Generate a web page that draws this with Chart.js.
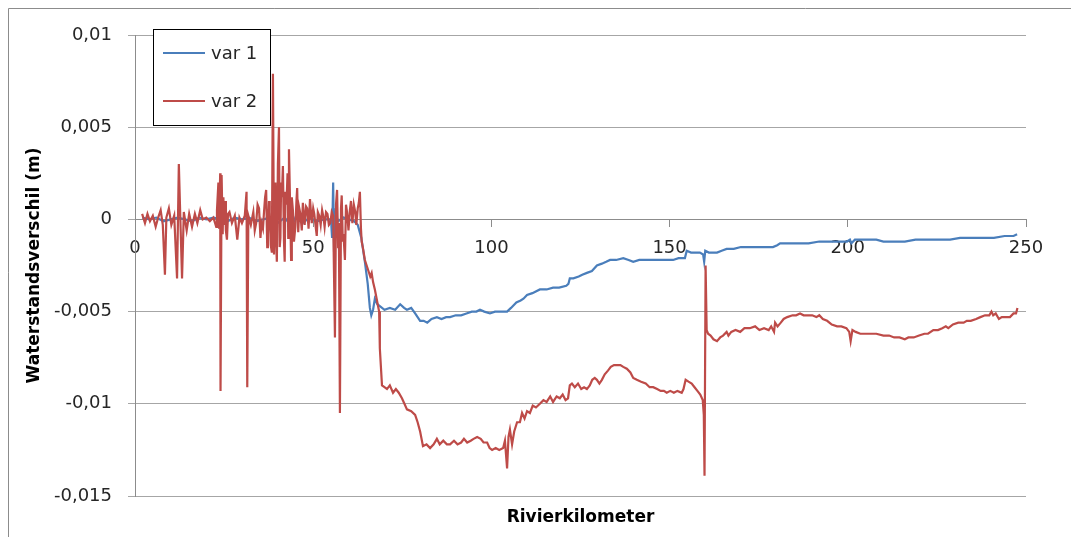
<!DOCTYPE html>
<html>
<head>
<meta charset="utf-8">
<script src="https://cdn.jsdelivr.net/npm/chart.js@4"></script>
<style>
  html, body { margin: 0; padding: 0; background: #fff; }
  canvas { display: block; }
</style>
</head>
<body>
<canvas id="c" width="1071" height="537"></canvas>
<script>
// ---------- data (km, m) ----------
const seriesNames = ['var 1', 'var 2'];
const xTickValues = [0, 50, 100, 150, 200, 250];
const yTickValues = [-0.015, -0.01, -0.005, 0, 0.005, 0.01];

const var1Km = [2.0,4.0,6.0,8.0,10.0,12.0,14.0,16.0,18.0,20.0,22.0,24.0,26.0,28.0,30.0,32.0,34.0,36.0,38.0,40.0,42.0,44.0,45.0,47.0,49.0,51.0,53.0,55.0,55.3,55.6,55.9,56.3,57.0,58.5,60.0,61.5,62.5,63.5,64.5,65.3,65.9,66.3,66.8,67.3,68.0,68.7,70.0,71.5,73.0,74.4,75.5,76.3,77.5,78.6,79.3,80.0,81.0,82.0,83.2,84.7,86.0,87.3,88.4,90.0,91.5,93.0,94.5,95.8,96.8,98.0,99.6,101.0,102.4,103.5,104.4,105.5,107.0,108.2,109.0,110.0,111.5,113.6,115.5,117.3,119.0,121.0,121.6,122.0,123.0,124.5,125.5,126.8,128.2,129.6,131.0,132.2,133.3,135.0,137.0,138.5,139.8,141.5,143.0,144.5,146.5,148.0,149.2,151.0,152.5,154.3,154.8,156.0,157.5,158.5,159.4,159.7,160.0,161.0,162.2,163.3,164.6,166.0,168.0,170.0,172.5,174.5,177.3,179.0,180.2,181.0,183.0,186.6,189.0,192.0,194.5,196.0,198.0,199.8,200.6,201.0,202.0,205.0,208.0,210.0,213.0,216.0,219.0,222.0,225.0,228.7,231.5,234.0,236.0,238.0,241.0,244.0,246.5,247.5];
const var1Val = [0.0001,0.0000,0.0001,-0.0001,0.0000,0.0001,0.0000,-0.0001,0.0001,0.0000,0.0001,0.0000,-0.0001,0.0001,0.0000,0.0001,-0.0001,0.0000,0.0001,-0.0002,0.0001,-0.0004,0.0001,-0.0002,0.0001,-0.0001,0.0000,0.0000,-0.0010,0.0020,-0.0024,0.0003,-0.0001,0.0001,0.0000,-0.0001,-0.0003,-0.0010,-0.0023,-0.0035,-0.0048,-0.0052,-0.0049,-0.0043,-0.0046,-0.0047,-0.0049,-0.0048,-0.0049,-0.0046,-0.0048,-0.0049,-0.0048,-0.0051,-0.0053,-0.0055,-0.0055,-0.0056,-0.0054,-0.0053,-0.0054,-0.0053,-0.0053,-0.0052,-0.0052,-0.0051,-0.0050,-0.0050,-0.0049,-0.0050,-0.0051,-0.0050,-0.0050,-0.0050,-0.0050,-0.0048,-0.0045,-0.0044,-0.0043,-0.0041,-0.0040,-0.0038,-0.0038,-0.0037,-0.0037,-0.0036,-0.0035,-0.0032,-0.0032,-0.0031,-0.0030,-0.0029,-0.0028,-0.0025,-0.0024,-0.0023,-0.0022,-0.0022,-0.0021,-0.0022,-0.0023,-0.0022,-0.0022,-0.0022,-0.0022,-0.0022,-0.0022,-0.0022,-0.0021,-0.0021,-0.0017,-0.0018,-0.0018,-0.0018,-0.0019,-0.0023,-0.0017,-0.0018,-0.0018,-0.0018,-0.0017,-0.0016,-0.0016,-0.0015,-0.0015,-0.0015,-0.0015,-0.0015,-0.0014,-0.0013,-0.0013,-0.0013,-0.0013,-0.0012,-0.0012,-0.0012,-0.0012,-0.0012,-0.0011,-0.0013,-0.0011,-0.0011,-0.0011,-0.0012,-0.0012,-0.0012,-0.0011,-0.0011,-0.0011,-0.0011,-0.0010,-0.0010,-0.0010,-0.0010,-0.0010,-0.0009,-0.0009,-0.0008];

// var 2, written in rows of 10 values
const var2Km = [
  2.0, 2.8, 3.5, 4.2, 5.0, 5.8, 6.5, 7.2, 7.8, 8.4,
  8.8, 9.5, 10.2, 11.0, 11.8, 12.3, 12.8, 13.2, 13.7, 14.5,
  15.2, 16.0, 16.8, 17.5, 18.3, 19.0, 20.0, 21.0, 22.0, 22.8,
  23.0, 23.4, 23.6, 23.9, 24.0, 24.3, 24.6, 24.8, 25.0, 25.3,
  25.5, 25.8, 26.1, 26.5, 27.2, 28.0, 28.7, 29.3, 30.0, 30.8,
  31.3, 31.5, 31.8, 32.5, 33.2, 33.6, 34.0, 34.4, 34.8, 35.2,
  35.5, 35.9, 36.2, 36.5, 36.8, 37.1, 37.3, 37.6, 37.8, 38.1,
  38.4, 38.7, 39.0, 39.2, 39.4, 39.6, 39.8, 40.1, 40.4, 40.6,
  40.8, 41.0, 41.2, 41.5, 41.8, 42.0, 42.2, 42.5, 42.8, 43.0,
  43.2, 43.5, 43.8, 44.0, 44.3, 44.6, 45.0, 45.3, 45.5, 45.8,
  46.1, 46.4, 46.8, 47.1, 47.4, 47.6, 48.0, 48.3, 48.7, 49.1,
  49.4, 49.6, 50.0, 50.3, 50.7, 51.0, 51.3, 51.7, 52.1, 52.5,
  52.9, 53.2, 53.6, 54.0, 54.4, 54.8, 55.2, 55.6, 56.1, 56.4,
  56.7, 57.0, 57.2, 57.5, 57.8, 58.0, 58.3, 58.5, 58.9, 59.2,
  59.5, 59.9, 60.3, 60.6, 61.0, 61.4, 61.8, 62.1, 62.5, 62.8,
  63.1, 63.4, 63.6, 64.0, 64.5, 65.0, 65.5, 66.0, 66.4, 66.8,
  67.3, 67.8, 68.5, 68.7, 69.3, 70.0, 70.7, 71.5, 72.4, 73.2,
  74.0, 74.9, 75.6, 76.3, 77.5, 78.6, 79.3, 80.0, 80.8, 81.8,
  82.8, 83.8, 84.7, 85.5, 86.5, 87.5, 88.4, 89.5, 90.5, 91.5,
  92.3, 93.2, 94.2, 95.0, 96.0, 97.0, 97.8, 98.8, 99.5, 100.2,
  101.2, 102.2, 103.3, 103.8, 104.4, 104.8, 105.2, 105.8, 106.4, 107.2,
  108.0, 108.6, 109.3, 110.0, 110.8, 111.6, 112.5, 113.6, 114.6, 115.5,
  116.5, 117.3, 118.3, 119.2, 120.0, 120.8, 121.5, 122.0, 122.6, 123.4,
  124.3, 125.2, 126.0, 126.8, 127.6, 128.3, 129.0, 129.6, 130.3, 131.0,
  131.8, 132.7, 133.5, 134.4, 135.2, 136.2, 137.0, 138.0, 139.0, 139.8,
  140.8, 142.0, 143.3, 144.4, 145.4, 146.5, 147.5, 148.4, 149.2, 150.2,
  151.2, 152.2, 153.4, 153.9, 154.5, 155.3, 156.2, 157.0, 157.8, 158.6,
  159.3, 159.6, 159.8, 160.1, 160.4, 160.8, 161.5, 162.3, 163.3, 164.2,
  165.0, 166.0, 166.5, 167.3, 168.5, 169.8, 171.0, 172.5, 174.0, 175.2,
  176.5, 177.8, 178.5, 179.3, 179.6, 180.3, 181.2, 182.0, 183.0, 184.5,
  185.5, 186.6, 187.6, 188.8, 190.0, 191.2, 192.0, 193.0, 194.2, 195.5,
  197.0, 198.2, 199.6, 200.4, 200.8, 201.3, 202.2, 203.5, 205.0, 206.5,
  208.0, 210.0, 211.6, 213.0, 214.5, 216.0, 217.0, 218.5, 220.0, 221.5,
  222.5, 224.0, 225.3, 226.5, 227.5, 228.2, 229.5, 231.0, 232.5, 233.4,
  234.5, 236.0, 237.2, 238.5, 239.7, 240.3, 240.8, 241.5, 242.4, 243.2,
  244.5, 245.5, 246.5, 247.2, 247.6
];
const var2Val = [
  0.0003, -0.0002, 0.0003, -0.0001, 0.0002, -0.0004, 0.0001, 0.0005, -0.0003, -0.0030,
  0.0001, 0.0006, -0.0003, 0.0002, -0.0032, 0.0030, -0.0005, -0.0032, 0.0004, -0.0006,
  0.0003, -0.0004, 0.0003, -0.0002, 0.0005, 0.0000, 0.0001, -0.0001, 0.0001, -0.0004,
  0.0005, 0.0020, -0.0005, 0.0025, -0.0093, 0.0024, -0.0008, 0.0012, -0.0003, 0.0010,
  -0.0006, -0.0011, 0.0003, 0.0004, -0.0002, 0.0002, -0.0011, 0.0001, -0.0002, 0.0002,
  0.0015, -0.0091, 0.0002, -0.0003, 0.0004, -0.0006, -0.0002, 0.0008, 0.0006, -0.0010,
  -0.0002, -0.0005, 0.0004, 0.0012, 0.0016, -0.0015, -0.0008, 0.0010, 0.0004, -0.0014,
  -0.0018, 0.0079, -0.0019, 0.0012, 0.0020, -0.0012, -0.0023, 0.0030, 0.0050, -0.0015,
  -0.0010, 0.0020, 0.0012, 0.0029, -0.0012, -0.0023, 0.0015, 0.0008, 0.0025, -0.0010,
  0.0038, 0.0010, -0.0022, 0.0012, 0.0005, -0.0012, -0.0004, 0.0010, 0.0017, -0.0007,
  0.0006, 0.0003, -0.0006, 0.0009, 0.0002, -0.0003, 0.0007, 0.0006, -0.0005, 0.0011,
  0.0003, -0.0002, 0.0006, 0.0003, -0.0004, -0.0009, 0.0004, 0.0002, -0.0003, 0.0005,
  0.0001, -0.0004, 0.0004, 0.0003, -0.0003, -0.0002, 0.0004, 0.0002, -0.0064, 0.0008,
  0.0016, -0.0015, -0.0002, -0.0105, 0.0006, 0.0013, -0.0012, -0.0008, -0.0022, 0.0008,
  0.0004, -0.0006, 0.0005, 0.0010, -0.0002, 0.0008, 0.0004, -0.0003, 0.0006, 0.0009,
  0.0015, -0.0005, -0.0012, -0.0016, -0.0022, -0.0025, -0.0028, -0.0031, -0.0029, -0.0034,
  -0.0038, -0.0043, -0.0050, -0.0070, -0.0090, -0.0091, -0.0092, -0.0090, -0.0094, -0.0092,
  -0.0094, -0.0097, -0.0100, -0.0103, -0.0104, -0.0106, -0.0110, -0.0115, -0.0123, -0.0122,
  -0.0124, -0.0122, -0.0119, -0.0122, -0.0120, -0.0122, -0.0122, -0.0120, -0.0122, -0.0121,
  -0.0119, -0.0121, -0.0120, -0.0119, -0.0118, -0.0119, -0.0121, -0.0121, -0.0124, -0.0125,
  -0.0124, -0.0125, -0.0124, -0.0120, -0.0135, -0.0118, -0.0114, -0.0122, -0.0115, -0.0110,
  -0.0110, -0.0105, -0.0108, -0.0104, -0.0105, -0.0101, -0.0102, -0.0100, -0.0098, -0.0099,
  -0.0096, -0.0099, -0.0096, -0.0097, -0.0095, -0.0098, -0.0097, -0.0090, -0.0089, -0.0091,
  -0.0089, -0.0092, -0.0091, -0.0092, -0.0090, -0.0087, -0.0086, -0.0087, -0.0089, -0.0087,
  -0.0084, -0.0082, -0.0080, -0.0079, -0.0079, -0.0079, -0.0080, -0.0081, -0.0083, -0.0086,
  -0.0087, -0.0088, -0.0089, -0.0091, -0.0091, -0.0092, -0.0093, -0.0093, -0.0094, -0.0093,
  -0.0094, -0.0093, -0.0094, -0.0092, -0.0087, -0.0088, -0.0089, -0.0091, -0.0093, -0.0095,
  -0.0098, -0.0106, -0.0139, -0.0025, -0.0060, -0.0062, -0.0063, -0.0065, -0.0066, -0.0064,
  -0.0063, -0.0061, -0.0063, -0.0061, -0.0060, -0.0061, -0.0059, -0.0059, -0.0058, -0.0060,
  -0.0059, -0.0060, -0.0058, -0.0061, -0.0056, -0.0058, -0.0056, -0.0054, -0.0053, -0.0052,
  -0.0052, -0.0051, -0.0052, -0.0052, -0.0052, -0.0053, -0.0052, -0.0054, -0.0055, -0.0057,
  -0.0058, -0.0058, -0.0059, -0.0061, -0.0066, -0.0060, -0.0061, -0.0062, -0.0062, -0.0062,
  -0.0062, -0.0063, -0.0063, -0.0064, -0.0064, -0.0065, -0.0064, -0.0064, -0.0063, -0.0062,
  -0.0062, -0.0060, -0.0060, -0.0059, -0.0058, -0.0059, -0.0057, -0.0056, -0.0056, -0.0055,
  -0.0055, -0.0054, -0.0053, -0.0052, -0.0052, -0.0050, -0.0052, -0.0051, -0.0054, -0.0053,
  -0.0053, -0.0053, -0.0051, -0.0051, -0.0048
];

if (var1Km.length !== var1Val.length) throw new Error('var1 length mismatch ' + var1Km.length + ' vs ' + var1Val.length);
if (var2Km.length !== var2Val.length) throw new Error('var2 length mismatch ' + var2Km.length + ' vs ' + var2Val.length);

const colors = ['#4A7EBB', '#BE4B48'];

// ---------- chart ----------
const toPoints = (xs, ys) => xs.map((x, i) => ({ x: x, y: ys[i] }));
const fmt = v => Number(v.toFixed(4)).toString().replace('.', ',');

const gridColor = '#a6a6a6';
const axisColor = '#8c8c8c';
const tickFont = { family: 'DejaVu Sans', size: 18 };
const titleFont = { family: 'DejaVu Sans', size: 17, weight: 'bold' };

const framePlugin = {
  id: 'frame',
  beforeDraw(chart) {
    const ctx = chart.ctx;
    ctx.save();
    ctx.fillStyle = '#ffffff';
    ctx.fillRect(0, 0, chart.width, chart.height);
    ctx.strokeStyle = '#8c8c8c';
    ctx.lineWidth = 1;
    ctx.beginPath();
    ctx.moveTo(8.5, chart.height);
    ctx.lineTo(8.5, 8.5);
    ctx.lineTo(chart.width, 8.5);
    ctx.stroke();
    ctx.restore();
  }
};

const boxLegendPlugin = {
  id: 'boxLegend',
  afterDraw(chart) {
    const ctx = chart.ctx;
    const x0 = 153.5, y0 = 29.5, w = 117, h = 96;
    ctx.save();
    ctx.fillStyle = '#ffffff';
    ctx.fillRect(x0, y0, w, h);
    ctx.strokeStyle = '#000000';
    ctx.lineWidth = 1;
    ctx.strokeRect(x0, y0, w, h);
    ctx.font = '18px "DejaVu Sans"';
    ctx.textBaseline = 'middle';
    ctx.textAlign = 'left';
    chart.data.datasets.forEach((ds, i) => {
      const y = 53 + i * 48;
      ctx.strokeStyle = ds.borderColor;
      ctx.lineWidth = 2;
      ctx.beginPath();
      ctx.moveTo(163, y);
      ctx.lineTo(205, y);
      ctx.stroke();
      ctx.fillStyle = '#262626';
      ctx.fillText(ds.label, 211, y + 1);
    });
    ctx.restore();
  }
};

new Chart(document.getElementById('c'), {
  type: 'line',
  data: {
    datasets: [
      { label: seriesNames[0], data: toPoints(var1Km, var1Val), borderColor: colors[0], borderWidth: 2.2, pointRadius: 0, tension: 0, order: 1 },
      { label: seriesNames[1], data: toPoints(var2Km, var2Val), borderColor: colors[1], borderWidth: 2.2, pointRadius: 0, tension: 0, order: 0 }
    ]
  },
  options: {
    responsive: false,
    animation: false,
    devicePixelRatio: 1,
    layout: { padding: { left: 0, top: 35, right: 45, bottom: 0 } },
    plugins: { legend: { display: false }, tooltip: { enabled: false } },
    scales: {
      x: {
        type: 'linear',
        position: { y: 0 },
        min: xTickValues[0],
        max: xTickValues[xTickValues.length - 1],
        afterBuildTicks: s => { s.ticks = xTickValues.map(v => ({ value: v })); },
        ticks: { font: tickFont, color: '#262626', padding: 11, maxRotation: 0, autoSkip: false },
        grid: { drawOnChartArea: false, drawTicks: true, tickLength: 7, color: axisColor },
        border: { display: true, color: axisColor, width: 1 }
      },
      x2: {
        type: 'linear',
        position: 'bottom',
        min: 0, max: 1,
        ticks: { display: false },
        grid: { display: false },
        border: { display: false },
        title: { display: true, text: 'Rivierkilometer', font: titleFont, color: '#000', padding: { top: 0, bottom: 9 } },
        afterFit: s => { s.height = 41; }
      },
      y: {
        type: 'linear',
        position: 'left',
        min: yTickValues[0],
        max: yTickValues[yTickValues.length - 1],
        afterBuildTicks: s => { s.ticks = yTickValues.map(v => ({ value: v })); },
        ticks: { font: tickFont, color: '#262626', padding: 16, callback: v => fmt(v) },
        grid: { color: gridColor, drawTicks: true, tickLength: 7, lineWidth: 1 },
        border: { display: true, color: axisColor, width: 1 },
        title: { display: true, text: 'Waterstandsverschil (m)', font: titleFont, color: '#000', padding: { top: 24, bottom: 0 } },
        afterFit: s => { s.width = 135; }
      }
    }
  },
  plugins: [framePlugin, boxLegendPlugin]
});
</script>
</body>
</html>
